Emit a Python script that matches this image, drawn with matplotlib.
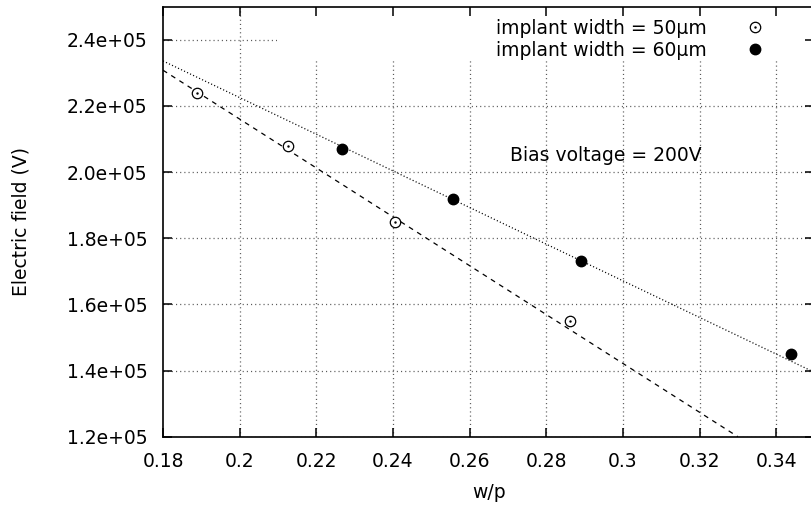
import numpy as np
import matplotlib
matplotlib.use('Agg')
import matplotlib.pyplot as plt
from matplotlib.patches import Rectangle

plt.rcParams['font.family'] = ['DejaVu Sans']
plt.rcParams['lines.scale_dashes'] = False

# datos
wp_50 = [0.1888, 0.2127, 0.2405, 0.2862]
campo_50 = [2.24e5, 2.08e5, 1.85e5, 1.55e5]
wp_60 = [0.2266, 0.2556, 0.2890, 0.3438]
campo_60 = [2.07e5, 1.92e5, 1.73e5, 1.45e5]

# rectas de ajuste (extremos)
ajuste_50_x = [0.18, 0.33]
ajuste_50_y = [2.308e5, 1.20e5]
ajuste_60_x = [0.18, 0.349]
ajuste_60_y = [2.336e5, 1.40e5]

xticks = [0.18, 0.2, 0.22, 0.24, 0.26, 0.28, 0.3, 0.32, 0.34]
xlabels = ['0.18', '0.2', '0.22', '0.24', '0.26', '0.28', '0.3', '0.32', '0.34']
yticks = [1.2e5, 1.4e5, 1.6e5, 1.8e5, 2.0e5, 2.2e5, 2.4e5]

fs = 13.5
W, H = 812, 508
fig = plt.figure(figsize=(W / 100, H / 100), dpi=100)
ax = fig.add_axes([163 / W, (H - 436.7) / H, (814.5 - 163) / W, (436.7 - 6.7) / H])

# grilla punteada
for v in yticks:
    ax.axhline(v, color='0.35', lw=0.9, ls=(0, (0.8, 2.2)), zorder=0.5)
for v in xticks[1:]:
    ax.axvline(v, color='0.35', lw=0.9, ls=(0, (0.8, 2.2)), zorder=0.5)

# fondo blanco de la leyenda
ax.add_patch(Rectangle((0.175, 0.874), 1.0, 0.2, transform=ax.transAxes,
                       facecolor='white', edgecolor='none', zorder=1))

ax.plot(ajuste_60_x, ajuste_60_y, color='black', lw=0.9, ls=(0, (0.8, 1.6)), zorder=2)
ax.plot(ajuste_50_x, ajuste_50_y, color='black', lw=0.9, ls=(0, (3.5, 3.5)), zorder=2)

h50 = ax.plot(wp_50, campo_50, 'o', mfc='white', mec='black', mew=0.9, ms=7.5, zorder=3)[0]
d50 = ax.plot(wp_50, campo_50, '.', color='black', ms=1.5, zorder=4)[0]
h60 = ax.plot(wp_60, campo_60, 'o', color='black', ms=7.5, zorder=3)[0]

ax.text(0.2705, 2.05e5, 'Bias voltage = 200V', fontsize=fs, ha='left', va='center')

ax.set_xlim(0.18, 0.35)
ax.set_ylim(1.2e5, 2.5e5)
ax.set_xticks(xticks)
ax.set_xticklabels(xlabels)
ax.set_yticks(yticks)
ax.set_yticklabels(['%.1e' % v for v in yticks])
ax.tick_params(direction='in', length=6.5, width=1.1, top=True, right=True,
               labelsize=fs, pad=11)
for s in ax.spines.values():
    s.set_linewidth(1.2)

ax.set_xlabel('w/p', fontsize=fs, labelpad=9)
ax.set_ylabel('Electric field (V)', fontsize=fs, labelpad=26)

ax.legend([(h50, d50), h60], ['implant width = 50\u03bcm', 'implant width = 60\u03bcm'],
          loc='upper right', bbox_to_anchor=(774 / W, (H - 19) / H),
          bbox_transform=fig.transFigure, frameon=False, markerfirst=False,
          fontsize=fs, handlelength=2.0, handletextpad=1.6, labelspacing=0.16,
          borderpad=0, borderaxespad=0)

fig.savefig('out.png', dpi=100)
